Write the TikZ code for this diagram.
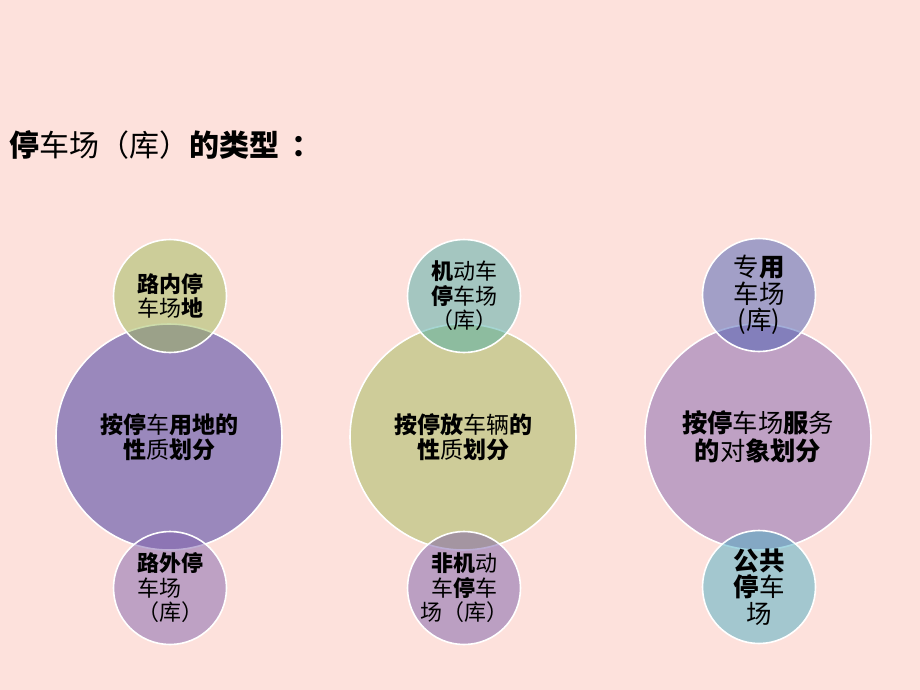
\documentclass[tikz,border=0pt]{standalone}
\usepackage{fontspec}
\newfontfamily\cjk{Noto Sans CJK SC}
\newcommand\rg[1]{{\mdseries #1}}
\definecolor{bgc}{HTML}{FDE1DC}
\definecolor{lbig}{HTML}{9A88BC}
\definecolor{ltop}{HTML}{9DBB58}
\definecolor{lbot}{HTML}{8163AE}
\definecolor{mbig}{HTML}{CECC99}
\definecolor{mtop}{HTML}{4DADA6}
\definecolor{mbot}{HTML}{7B5FAA}
\definecolor{rbig}{HTML}{BFA1C4}
\definecolor{rtop}{HTML}{495FB4}
\definecolor{rbot}{HTML}{4BAFC4}
\tikzset{
  bigc/.style={circle, draw=white, line width=1.6pt, minimum size=226pt, inner sep=0pt, align=center,
    font=\cjk\bfseries\fontsize{23}{25}\selectfont},
  smallc/.style={circle, draw=white, line width=1.6pt, minimum size=113pt, inner sep=0pt, align=center,
    fill opacity=0.5, draw opacity=1, text opacity=1,
    font=\cjk\bfseries\fontsize{22}{24.5}\selectfont},
  rsmall/.style={font=\cjk\bfseries\fontsize{25.5}{26.5}\selectfont},
}
\begin{document}
\begin{tikzpicture}[x=1pt, y=-1pt]
\fill[bgc] (0,0) rectangle (920,690);
\useasboundingbox (0,0) rectangle (920,690);
\node[anchor=west, font=\cjk\bfseries\fontsize{30}{32}\selectfont, inner sep=0pt] (title) at (9,145)
  {停\rg{车场（库）}的类型\hspace{12pt}：};
% left
\node[bigc, fill=lbig] (L) at (169,437) {按停\rg{车}用地的\\性\rg{质}划分};
\node[smallc, fill=ltop] (Lt) at (170,296) {路内停\\\rg{车场}地};
\node[smallc, fill=lbot, align=left] (Lb) at (170,588) {路外停\\\rg{车场}\\\rg{（库）}};
% middle
\node[bigc, fill=mbig] (M) at (463,437) {按停放\rg{车辆}的\\性\rg{质}划分};
\node[smallc, fill=mtop] (Mt) at (464,296) {机\rg{动车}\\停\rg{车场}\\\rg{（库）}};
\node[smallc, fill=mbot] (Mb) at (464,588) {非机\rg{动}\\\rg{车}停\rg{车}\\\rg{场（库）}};
% right
\node[bigc, fill=rbig, font=\cjk\bfseries\fontsize{25.3}{28}\selectfont] (R) at (758,437) {按停\rg{车场}服\rg{务}\\的\rg{对}象划分};
\node[smallc, fill=rtop, rsmall] (Rt) at (759,295) {\rg{专}用\\\rg{车场}\\\rg{(库)}};
\node[smallc, fill=rbot, rsmall] (Rb) at (759,587) {公共\\停\rg{车}\\\rg{场}};
\end{tikzpicture}
\end{document}
